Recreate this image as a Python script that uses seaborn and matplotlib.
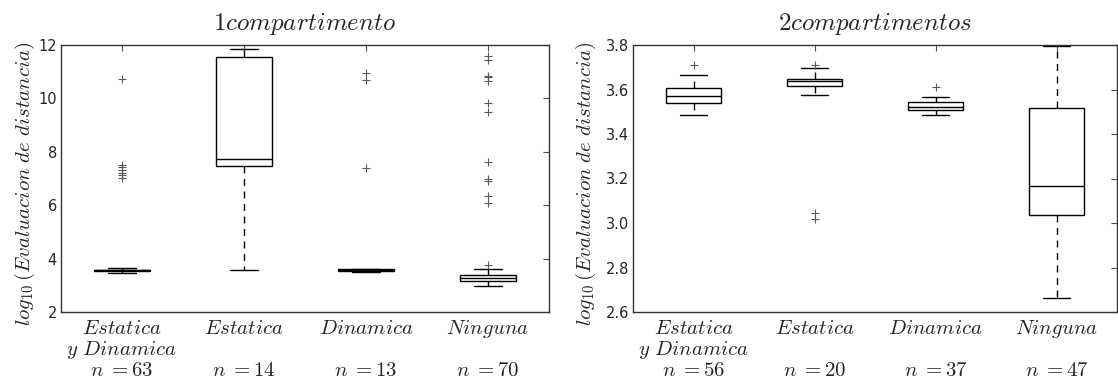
import matplotlib
matplotlib.use("Agg")
import matplotlib.pyplot as plt
import pandas as pd
import seaborn as sns

# Category order shared by both panels
groups = ["Estatica y Dinamica", "Estatica", "Dinamica", "Ninguna"]
group_tex = [r"$Estatica$" + "\n" + r"$y\ Dinamica$", r"$Estatica$", r"$Dinamica$", r"$Ninguna$"]

# One compartment: sample sizes and five-number summaries (log10 scale)
one_n = [63, 14, 13, 70]
one_whislo = [3.47, 3.58, 3.49, 2.98]
one_q1 = [3.53, 7.47, 3.54, 3.17]
one_med = [3.56, 7.72, 3.57, 3.26]
one_q3 = [3.58, 11.56, 3.60, 3.37]
one_whishi = [3.64, 11.85, 3.61, 3.60]
one_fliers = [
    [10.73, 7.52, 7.42, 7.32, 7.22, 7.12, 7.0],
    [],
    [10.96, 10.68, 7.38],
    [11.6, 11.45, 10.85, 10.8, 10.65, 9.82, 9.49, 7.63, 6.98, 6.9, 6.36, 6.1, 3.77],
]

# Two compartments
two_n = [56, 20, 37, 47]
two_whislo = [3.485, 3.574, 3.484, 2.664]
two_q1 = [3.538, 3.614, 3.509, 3.037]
two_med = [3.571, 3.638, 3.520, 3.166]
two_q3 = [3.605, 3.649, 3.542, 3.517]
two_whishi = [3.665, 3.695, 3.568, 3.797]
two_fliers = [[3.71], [3.71, 3.045, 3.017], [3.613], []]

sns.set_theme(style="white")
plt.rcParams.update({
    "font.family": ["DejaVu Sans"],
    "mathtext.fontset": "cm",
    "axes.edgecolor": "black",
    "axes.linewidth": 1.0,
})


def summary_frame(lo, q1, med, q3, hi):
    rows = []
    for g, vals in zip(groups, zip(lo, q1, med, q3, hi)):
        for v in vals:
            rows.append({"group": g, "value": v})
    return pd.DataFrame(rows)


def flier_frame(fliers):
    rows = [{"group": g, "value": v} for g, fl in zip(groups, fliers) for v in fl]
    return pd.DataFrame(rows, columns=["group", "value"])


def draw_panel(ax, box_df, flier_df, counts, title, ylim, yticks, yfmt, ylabel_x):
    sns.boxplot(
        data=box_df, x="group", y="value", order=groups, ax=ax,
        width=0.46, whis=1.5, showfliers=False, color="white", saturation=1,
        linecolor="black", linewidth=1.0,
        whiskerprops=dict(linestyle=(0, (5, 4))),
    )
    sns.stripplot(
        data=flier_df, x="group", y="value", order=groups, ax=ax,
        jitter=False, marker="+", color="0.35", size=6, linewidth=0.8,
    )
    ax.set_xlim(-0.5, 3.5)
    ax.set_ylim(*ylim)
    ax.set_yticks(yticks)
    ax.set_yticklabels([yfmt.format(t) for t in yticks], fontsize=10.5)
    ax.set_xticks(range(len(groups)))
    ax.set_xticklabels(group_tex, fontsize=15, linespacing=1.08, va="top")
    # sample sizes on a common row below the category names
    for i, c in enumerate(counts):
        ax.text(i, -(376 - 312) / 267, r"$n\;{=}" + f"{c}$",
                transform=ax.get_xaxis_transform(), ha="center", va="baseline",
                fontsize=15)
    ax.tick_params(direction="in", top=True, right=True, length=4, width=0.8,
                   color="0.3")
    ax.tick_params(axis="y", pad=3)
    ax.tick_params(axis="x", pad=4)
    ax.set_xlabel("")
    ax.set_ylabel(r"$log_{10}\,(Evaluacion\ de\ distancia)$", fontsize=15)
    ax.yaxis.set_label_coords(ylabel_x, 0.478)
    ax.set_title(title, fontsize=18, pad=11)
    for s in ax.spines.values():
        s.set_visible(True)
        s.set_color("0.2")


fig = plt.figure(figsize=(11.18, 3.82), dpi=100)
ax1 = fig.add_axes([61 / 1118, 70 / 382, 488 / 1118, 267 / 382])
ax2 = fig.add_axes([633 / 1118, 70 / 382, 484 / 1118, 267 / 382])

draw_panel(ax1, summary_frame(one_whislo, one_q1, one_med, one_q3, one_whishi),
           flier_frame(one_fliers), one_n, r"$1compartimento$",
           (2, 12), [2, 4, 6, 8, 10, 12], "{:g}", (37 - 61) / 488)
draw_panel(ax2, summary_frame(two_whislo, two_q1, two_med, two_q3, two_whishi),
           flier_frame(two_fliers), two_n, r"$2compartimentos$",
           (2.6, 3.8), [2.6, 2.8, 3.0, 3.2, 3.4, 3.6, 3.8], "{:.1f}", (598 - 633) / 484)

fig.savefig("out.png", dpi=100)
